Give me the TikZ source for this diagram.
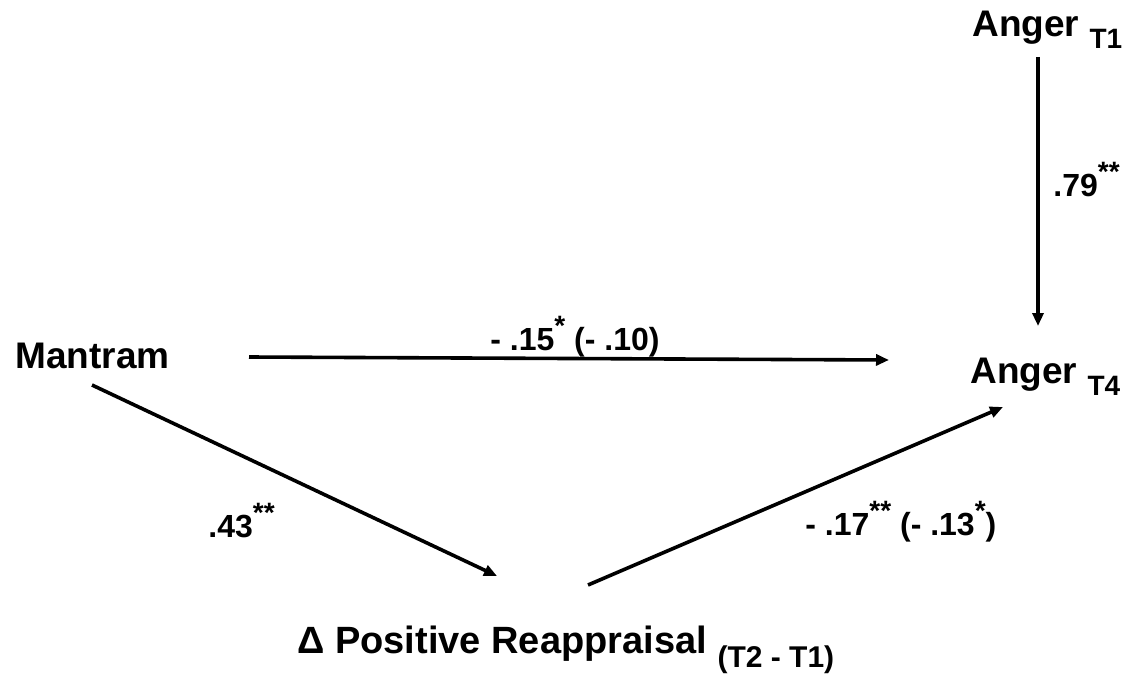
\documentclass[tikz,border=0pt]{standalone}
\usepackage{fontspec}
\setmainfont{Liberation Sans}
\usetikzlibrary{arrows.meta, positioning, calc}
\newcommand{\lowtext}[1]{\raisebox{-6pt}{\fontsize{14}{14}\selectfont #1}}
\newcommand{\stars}[1]{\raisebox{7.5pt}{\fontsize{14}{14}\selectfont #1}}

\begin{document}
\begin{tikzpicture}[
    x=0.5pt, y=-0.5pt,
    var/.style={inner sep=0pt, anchor=base west, font=\fontsize{18.5}{20}\selectfont\bfseries},
    coef/.style={inner sep=0pt, anchor=base west, font=\fontsize{16}{18}\selectfont\bfseries},
    arrow/.style={-{Triangle[length=6.5pt, width=5.5pt]}, line width=1.8pt}
]
    \useasboundingbox (0,0) rectangle (1139,674);

    % Variables
    \node[var] (t1) at (972,37) {Anger \lowtext{T1}};
    \node[var] (t4) at (970,383) {Anger \lowtext{T4}};
    \node[var] (mantram) at (15,368) {Mantram};
    \node[var, font=\fontsize{19}{20}\selectfont\bfseries] (reap) at (297,653)
        {Δ Positive Reappraisal \raisebox{-7pt}{\fontsize{15}{15}\selectfont (T2 - T1)}};

    % Coefficients
    \node[coef] (c79) at (1053,196) {.79\stars{**}};
    \node[coef] (c15) at (490,350) {- .15\stars{*} (- .10)};
    \node[coef] (c43) at (208,537) {.43\stars{**}};
    \node[coef] (c17) at (805,535) {- .17\stars{**} (- .13\stars{*})};

    % Paths
    \draw[arrow] ($(t1.base west)+(66,20)$) -- ($(t4.base west)+(68,-57)$);
    \draw[arrow] ($(mantram.base west)+(234,-11)$) -- ($(t4.base west)+(-81,-23)$);
    \draw[arrow] ($(mantram.base west)+(77,17)$) -- ($(reap.base west)+(200,-77)$);
    \draw[arrow] ($(reap.base west)+(291,-68)$) -- ($(t4.base west)+(33,24)$);
\end{tikzpicture}
\end{document}
